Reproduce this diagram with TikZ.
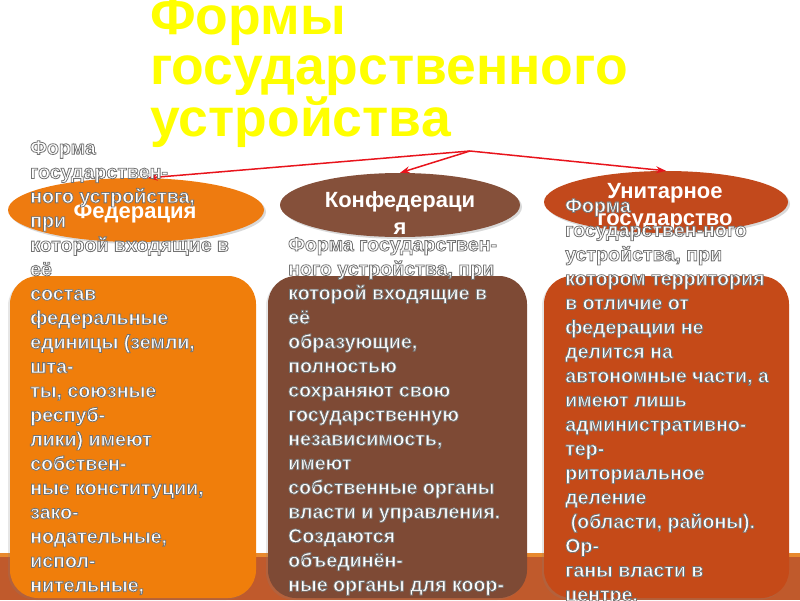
\documentclass[tikz,border=0pt]{standalone}
\usepackage{fontspec}
\setmainfont{Liberation Sans}
\usetikzlibrary{shapes.geometric,arrows.meta,shadows}
\definecolor{fedc}{HTML}{EE7B10}
\definecolor{fedboxc}{HTML}{F07E0B}
\definecolor{confc}{HTML}{85503A}
\definecolor{confboxc}{HTML}{7E4A35}
\definecolor{unic}{HTML}{C2491C}
\definecolor{uniboxc}{HTML}{C54A18}
\definecolor{bandc}{HTML}{C05A2C}
\definecolor{bandline}{HTML}{E8892E}
\definecolor{arrowred}{HTML}{E8141C}
\definecolor{titley}{HTML}{FFFF00}
\newcommand\outlon{\special{pdf:literal direct 2 Tr 0.8 w 0.45 0.45 0.45 RG}}
\newcommand\outloff{\special{pdf:literal direct 0 Tr}}
\begin{document}
\begin{tikzpicture}[x=1pt,y=-1pt,
  ell/.style={ellipse, inner sep=0pt, minimum height=64pt,
    drop shadow={shadow xshift=2pt,shadow yshift=-2pt,opacity=0.3}},
  colbox/.style={rectangle, rounded corners=28pt, inner sep=0pt, minimum height=322pt,
    drop shadow={shadow xshift=-2pt,shadow yshift=-2pt,opacity=0.2}},
  elltext/.style={text=white, font=\fontsize{22}{27}\selectfont\bfseries, align=center, inner sep=0pt},
  coltext/.style={text=white, font=\fontsize{19.6}{24.3}\selectfont\bfseries, align=left, anchor=north west, inner sep=0pt},
  link/.style={draw=arrowred, line width=1.5pt, -{Stealth[length=10pt,width=7pt]}}
]
\useasboundingbox (0,0) rectangle (800,600);
% bottom band
\fill[bandline] (0,553) rectangle (800,557);
\fill[bandc] (0,557) rectangle (800,600);
% boxes
\node[colbox, fill=fedboxc, minimum width=246pt] (fedb) at (133,437) {};
\node[colbox, fill=confboxc, minimum width=259pt] (confb) at (397.5,437) {};
\node[colbox, fill=uniboxc, minimum width=245pt] (unib) at (666.5,437) {};
% ellipses
\node[ell, fill=fedc, minimum width=256pt] (fed) at (136,210) {};
\node[ell, fill=confc, minimum width=240pt] (conf) at (400,205) {};
\node[ell, fill=unic, minimum width=244pt, minimum height=62pt] (uni) at (666,202) {};
% title
\node[anchor=north west, inner sep=0pt, text=titley, font=\fontsize{53.5}{50}\selectfont\bfseries, align=left] (title) at (150,-3) {Формы\\государственного\\устройства};
% arrows
\coordinate (apex) at (470,151);
\draw[link] (apex) -- (conf.north);
\draw[link] (apex) -- (uni.north);
\draw[link] (apex) -- (fed.70);
% ellipse labels
\node[elltext] (fedt) at (135,213) {Федерация};
\node[elltext] (conft) at (400,213.5) {Конфедераци\\я};
\node[elltext] (unit) at (665,206.5) {Унитарное\\государство};
% column texts
\node[coltext] (fedtx) at (30,140.5) {\outlon Форма\\государствен-\\ного устройства,\\при\\которой входящие в\\её\\состав\\федеральные\\единицы (земли,\\шта-\\ты, союзные\\респуб-\\лики) имеют\\собствен-\\ные конституции,\\зако-\\нодательные,\\испол-\\нительные,\outloff};
\node[coltext] (conftx) at (288,237.2) {\outlon Форма государствен-\\ного устройства, при\\которой входящие в\\её\\образующие,\\полностью\\сохраняют свою\\государственную\\независимость,\\имеют\\собственные органы\\власти и управления.\\Создаются\\объединён-\\ные органы для коор-\outloff};
\node[coltext] (unitx) at (565,198.5) {\outlon Форма\\государствен-ного\\устройства, при\\котором территория\\в отличие от\\федерации не\\делится на\\автономные части, а\\имеют лишь\\административно-\\тер-\\риториальное\\деление\\\ (области, районы).\\Ор-\\ганы власти в\\центре.\outloff};
\end{tikzpicture}
\end{document}
